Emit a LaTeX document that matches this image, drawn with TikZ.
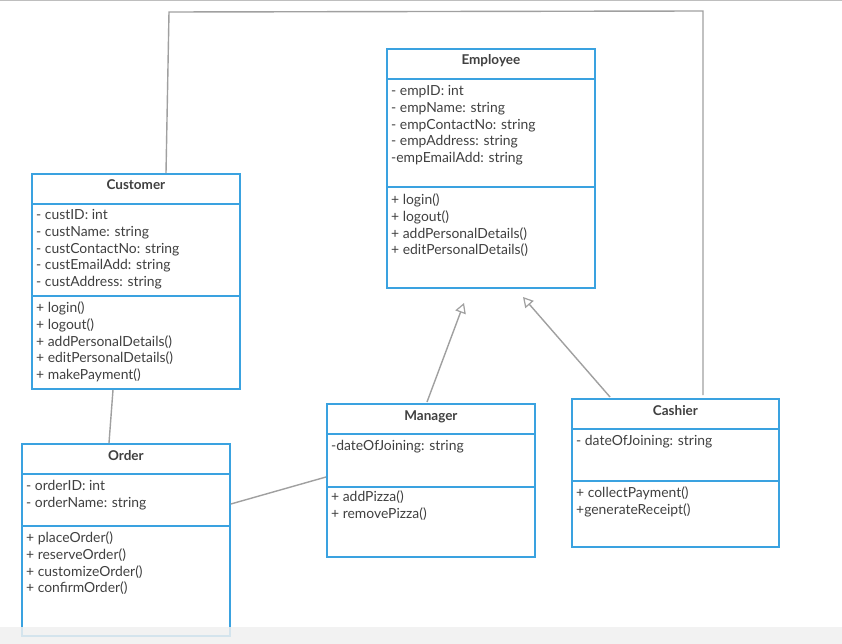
\documentclass[tikz,border=0pt]{standalone}
\usepackage{fontspec}
\setmainfont{Lato}
\usetikzlibrary{arrows.meta,calc}
\definecolor{boxblue}{RGB}{58,162,224}
\definecolor{linegray}{RGB}{160,160,160}
\definecolor{txt}{RGB}{64,64,64}
\definecolor{barbg}{RGB}{240,240,240}
\tikzset{
  classbox/.style={draw=boxblue, line width=1.8pt, fill=white, minimum width=208pt, inner sep=0pt, anchor=north west},
  divider/.style={draw=boxblue, line width=1.8pt},
  classname/.style={font=\fontsize{13.5}{16}\selectfont\bfseries, text=txt, inner sep=0pt, anchor=base},
  members/.style={font=\fontsize{13.9}{16.8}\selectfont, text=txt, inner sep=0pt, anchor=base west, align=left},
  conn/.style={draw=linegray, line width=1.4pt},
  inherit/.style={conn, -{Triangle[open, length=10pt, width=11pt, line width=1.2pt, fill=white]}}
}
\begin{document}
\begin{tikzpicture}[x=1pt,y=-1pt]
\useasboundingbox (0,0) rectangle (842,644);
\fill[white] (0,0) rectangle (842,644);
\draw[draw={rgb,255:red,190;green,190;blue,190}, line width=1.2pt] (0,0.6) -- (842,0.6);

% Employee
\node[classbox, minimum height=239pt] (Employee) at (386,48) {};
\draw[divider] ($(Employee.north west)+(0,31)$) -- ($(Employee.north east)+(0,31)$);
\draw[divider] ($(Employee.north west)+(0,139)$) -- ($(Employee.north east)+(0,139)$);
\node[classname] (empName) at ($(Employee.north)+(0,17)$) {Employee};
\node[members] (empAttr) at ($(Employee.north west)+(5,114.7)$) {- empID: int\\- empName: string\\- empContactNo: string\\- empAddress: string\\-empEmailAdd: string};
\node[members] (empMeth) at ($(Employee.north west)+(5,206.9)$) {+ login()\\+ logout()\\+ addPersonalDetails()\\+ editPersonalDetails()};

% Customer
\node[classbox, minimum height=215pt] (Customer) at (31,173) {};
\draw[divider] ($(Customer.north west)+(0,31)$) -- ($(Customer.north east)+(0,31)$);
\draw[divider] ($(Customer.north west)+(0,123)$) -- ($(Customer.north east)+(0,123)$);
\node[classname] (custName) at ($(Customer.north)+(0,17)$) {Customer};
\node[members] (custAttr) at ($(Customer.north west)+(5,113.7)$) {- custID: int\\- custName: string\\- custContactNo: string\\- custEmailAdd: string\\- custAddress: string};
\node[members] (custMeth) at ($(Customer.north west)+(5,206.7)$) {+ login()\\+ logout()\\+ addPersonalDetails()\\+ editPersonalDetails()\\+ makePayment()};

% Order
\node[classbox, minimum height=192pt] (Order) at (21,443) {};
\draw[divider] ($(Order.north west)+(0,31)$) -- ($(Order.north east)+(0,31)$);
\draw[divider] ($(Order.north west)+(0,83)$) -- ($(Order.north east)+(0,83)$);
\node[classname] (ordName) at ($(Order.north)+(0,17)$) {Order};
\node[members] (ordAttr) at ($(Order.north west)+(5,64.3)$) {- orderID: int\\- orderName: string};
\node[members] (ordMeth) at ($(Order.north west)+(5,149.9)$) {+ placeOrder()\\+ reserveOrder()\\+ customizeOrder()\\+ confirmOrder()};

% Manager
\node[classbox, minimum height=153pt] (Manager) at (326,403) {};
\draw[divider] ($(Manager.north west)+(0,31)$) -- ($(Manager.north east)+(0,31)$);
\draw[divider] ($(Manager.north west)+(0,84)$) -- ($(Manager.north east)+(0,84)$);
\node[classname] (mgrName) at ($(Manager.north)+(0,17)$) {Manager};
\node[members] (mgrAttr) at ($(Manager.north west)+(5,47.5)$) {-dateOfJoining: string};
\node[members] (mgrMeth) at ($(Manager.north west)+(5,115.3)$) {+ addPizza()\\+ removePizza()};

% Cashier
\node[classbox, minimum height=148pt, minimum width=207pt] (Cashier) at (571,398) {};
\draw[divider] ($(Cashier.north west)+(0,31)$) -- ($(Cashier.north east)+(0,31)$);
\draw[divider] ($(Cashier.north west)+(0,83)$) -- ($(Cashier.north east)+(0,83)$);
\node[classname] (cashName) at ($(Cashier.north)+(0,17)$) {Cashier};
\node[members] (cashAttr) at ($(Cashier.north west)+(5,47.5)$) {- dateOfJoining: string};
\node[members] (cashMeth) at ($(Cashier.north west)+(5,116.3)$) {+ collectPayment()\\+generateReceipt()};

% connectors
\coordinate (topL) at (169,12);
\coordinate (topR) at (703,11);
\coordinate (mgrTip) at (464,303);
\coordinate (cashTip) at (523,297);
\draw[conn] ($(Customer.north west)+(135,0)$) -- (topL) -- (topR) -- ($(Cashier.north west)+(132,-3)$);
\draw[conn] ($(Customer.south west)+(82,0)$) -- ($(Order.north west)+(88,0)$);
\draw[conn] ($(Order.north east)+(0,61)$) -- ($(Manager.north west)+(0,74)$);
\draw[inherit] ($(Manager.north west)+(101,-1)$) -- (mgrTip);
\draw[inherit] ($(Cashier.north west)+(39,-1)$) -- (cashTip);

% bottom bar
\fill[barbg, fill opacity=0.85] (0,627) rectangle (842,644);
\end{tikzpicture}
\end{document}
